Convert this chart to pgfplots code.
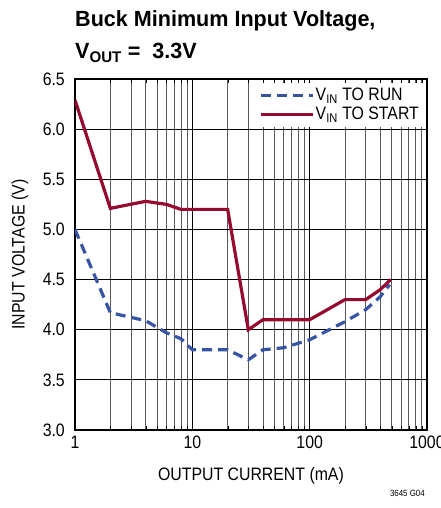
\documentclass[border=0pt]{standalone}
\usepackage{fontspec}
\setmainfont{Liberation Sans}[FakeStretch=0.88]
\newfontfamily\titlefont{Liberation Sans}[FakeStretch=0.98]
\usepackage{pgfplots}
\pgfplotsset{compat=1.18}
\definecolor{runblue}{RGB}{56,84,164}
\definecolor{startred}{RGB}{150,10,45}

\begin{document}
\begin{tikzpicture}
\begin{axis}[
    at={(75pt,78pt)}, anchor=south west,
    scale only axis, width=352pt, height=351pt,
    xmode=log, log basis x=10,
    xmin=1, xmax=1000, ymin=3, ymax=6.5,
    xtick={1,10,100,1000}, xticklabels={1,10,100,1000},
    minor xtick={2,3,4,5,6,7,8,9,20,30,40,50,60,70,80,90,200,300,400,500,600,700,800,900},
    ytick={3,3.5,4,4.5,5,5.5,6,6.5},
    /pgf/number format/assume math mode=true,
    tick label style={font=\fontsize{18}{20}\selectfont},
    xticklabel style={inner sep=2pt, yshift=-4pt},
    yticklabel style={inner sep=2pt, xshift=-8pt,
        /pgf/number format/.cd, fixed, fixed zerofill, precision=1},
    label style={font=\fontsize{18}{20}\selectfont},
    xlabel={OUTPUT CURRENT (mA)},
    ylabel={INPUT VOLTAGE (V)},
    xlabel style={at={(axis description cs:0.5,0)}, anchor=base, yshift=-50pt},
    ylabel style={at={(axis description cs:0,0.5)}, anchor=center, yshift=55pt},
    grid=both,
    major grid style={black, line width=0.8pt},
    minor grid style={black!65, line width=0.8pt},
    major tick length=0pt, minor tick length=4pt,
    tick style={black},
    axis line style={black, line width=1.2pt},
    legend style={at={(0.993,0.99)}, anchor=north east, draw=none, fill=white,
        font=\fontsize{18}{20}\selectfont, row sep=2pt, inner sep=4pt,
        nodes={inner sep=1.5pt}},
    legend cell align=left,
    legend image code/.code={\draw[#1] (0pt,0pt) -- (52pt,0pt);},
]
\addplot[runblue, line width=3.2pt, dash pattern=on 10pt off 6pt] coordinates {
    (1,5.00) (2,4.17) (4,4.09) (6,3.97) (8,3.91) (10,3.80) (20,3.80)
    (30,3.70) (40,3.80) (60,3.82) (100,3.90) (200,4.08) (300,4.20)
    (400,4.33) (480,4.45)
};
\addplot[startred, line width=3.2pt] coordinates {
    (1,6.29) (2,5.21) (4,5.28) (6,5.25) (8,5.20) (20,5.20) (30,4.00)
    (40,4.10) (100,4.10) (200,4.30) (300,4.30) (400,4.40) (490,4.50)
};
\legend{V\textsubscript{IN} TO RUN, V\textsubscript{IN} TO START}
\end{axis}
\node[anchor=base west, inner sep=0pt, font=\fontsize{22}{24}\selectfont\titlefont\bfseries] at (75pt,481pt)
    {Buck Minimum Input Voltage,};
\node[anchor=base west, inner sep=0pt, font=\fontsize{22}{24}\selectfont\titlefont\bfseries] at (75pt,449pt)
    {V\textsubscript{OUT} = \ 3.3V};
\node[anchor=base east, inner sep=0pt, font=\fontsize{9}{10}\selectfont] at (425pt,12pt) {3645 G04};
\pgfresetboundingbox
\path[use as bounding box] (0pt,0pt) rectangle (440pt,508pt);
\end{tikzpicture}
\end{document}
